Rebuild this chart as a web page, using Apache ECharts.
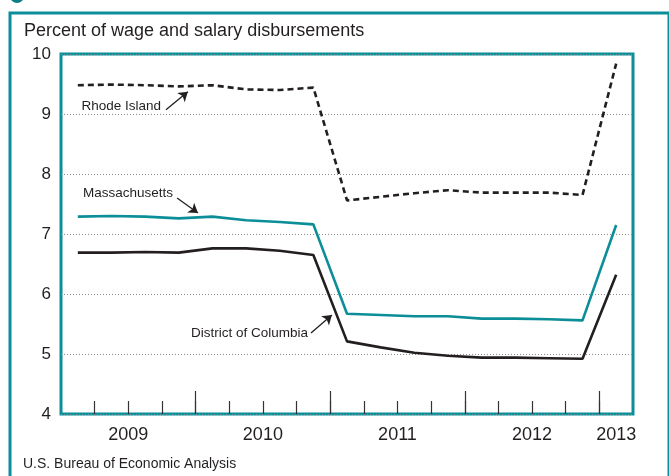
<!DOCTYPE html>
<html lang="en">

<head>
    <meta charset="UTF-8">
    <title>Wage and salary disbursements</title>
    <script src="https://cdn.jsdelivr.net/npm/echarts@6/dist/echarts.min.js"></script>
    <style>
        html, body { margin: 0; padding: 0; background: #fff; }
        #chart { width: 669px; height: 476px; }
    </style>
</head>

<body>
    <div id="chart"></div>
    <script>
        // quarterly values, 2009Q1 .. 2013Q1
        const quarters = ['2009Q1', '2009Q2', '2009Q3', '2009Q4', '2010Q1', '2010Q2', '2010Q3', '2010Q4',
            '2011Q1', '2011Q2', '2011Q3', '2011Q4', '2012Q1', '2012Q2', '2012Q3', '2012Q4', '2013Q1'];
        const years = ['2009', '2010', '2011', '2012', '2013'];
        const rhodeIsland = [9.48, 9.49, 9.48, 9.46, 9.48, 9.41, 9.40, 9.44, 7.56, 7.62, 7.68, 7.73, 7.69, 7.69, 7.69, 7.65, 9.84];
        const massachusetts = [7.29, 7.30, 7.29, 7.26, 7.29, 7.23, 7.20, 7.16, 5.67, 5.65, 5.63, 5.63, 5.59, 5.59, 5.58, 5.56, 7.15];
        const districtOfColumbia = [6.69, 6.69, 6.70, 6.69, 6.76, 6.76, 6.72, 6.65, 5.21, 5.11, 5.02, 4.97, 4.94, 4.94, 4.93, 4.92, 6.32];
        const yTicks = [4, 5, 6, 7, 8, 9, 10];

        const TEAL = '#0b8e98';
        const INK = '#231f20';
        const FONT = "'Liberation Sans', Arial, Helvetica, sans-serif";

        // x runs in quarters: quarter i fills [i, i+1], its point sits at i + 0.5
        const toPoints = vals => vals.map((v, i) => [i + 0.5, v]);
        const inner = quarters.map((q, i) => i).slice(1);           // quarter boundaries
        const yearStarts = inner.filter(i => quarters[i].endsWith('Q1'));
        // year label in the middle of the quarters it has
        const yearMid = years.map(y => {
            const idx = quarters.map((q, i) => q.startsWith(y) ? i : -1).filter(i => i >= 0);
            return (idx[0] + idx[idx.length - 1] + 1) / 2;
        });

        // label + arrow, in data coordinates
        function callout(name, textAt, from, to) {
            return {
                markPoint: {
                    silent: true,
                    symbol: 'circle',
                    symbolSize: 0,
                    data: [{ name: name, coord: textAt }],
                    label: {
                        show: true, position: 'left', distance: 2, formatter: '{b}',
                        color: INK, fontSize: 13.5, fontFamily: FONT
                    }
                },
                markLine: {
                    silent: true,
                    symbol: ['none', 'arrow'],
                    symbolSize: 9,
                    label: { show: false },
                    lineStyle: { color: INK, width: 1.3, type: 'solid' },
                    data: [[{ coord: from }, { coord: to }]]
                }
            };
        }

        let myChart = echarts.init(document.getElementById('chart'));

        const baseX = {
            type: 'value', position: 'bottom', min: 0, max: quarters.length,
            axisLine: { show: false },
            splitLine: { show: false }
        };

        let option = {
            animation: false,
            textStyle: { fontFamily: FONT },
            title: [
                {
                    text: 'Percent of wage and salary disbursements',
                    left: 19, top: 17,
                    textStyle: { fontSize: 18, fontWeight: 'normal', color: INK, fontFamily: FONT }
                },
                {
                    text: 'U.S. Bureau of Economic Analysis',
                    left: 18, top: 452,
                    textStyle: { fontSize: 14, fontWeight: 'normal', color: INK, fontFamily: FONT }
                }
            ],
            graphic: [
                {
                    type: 'rect', silent: true,
                    shape: { x: 10, y: 13, width: 659, height: 480 },
                    style: { fill: 'none', stroke: TEAL, lineWidth: 3 }
                },
                {
                    type: 'circle', silent: true,
                    shape: { cx: 17, cy: -4, r: 7 },
                    style: { fill: '#0a7d86' }
                }
            ],
            grid: {
                left: 61, right: 36, top: 54, bottom: 62,
                show: true, borderColor: TEAL, borderWidth: 3, backgroundColor: 'transparent'
            },
            xAxis: [
                Object.assign({}, baseX, {
                    axisTick: {
                        show: true, inside: true, length: 13, customValues: inner,
                        lineStyle: { color: '#333', width: 1.2 }
                    },
                    axisLabel: { show: false }
                }),
                Object.assign({}, baseX, {
                    axisTick: {
                        show: true, inside: true, length: 23, customValues: yearStarts,
                        lineStyle: { color: '#333', width: 1.2 }
                    },
                    axisLabel: { show: false }
                }),
                Object.assign({}, baseX, {
                    axisTick: { show: false },
                    axisLabel: {
                        show: true, margin: 12, fontSize: 18, color: INK, fontFamily: FONT,
                        customValues: yearMid,
                        formatter: v => years[yearMid.indexOf(v)]
                    }
                })
            ],
            yAxis: {
                type: 'value', min: yTicks[0], max: yTicks[yTicks.length - 1], interval: 1,
                axisLine: { show: false },
                axisTick: { show: false },
                axisLabel: { fontSize: 17, color: INK, margin: 10, fontFamily: FONT },
                splitLine: { show: true, lineStyle: { color: '#8a8a8a', width: 1, type: [1, 2] } }
            },
            series: [
                Object.assign({
                    name: 'Rhode Island', type: 'line', data: toPoints(rhodeIsland),
                    showSymbol: false, silent: true,
                    lineStyle: { color: INK, width: 2.6, type: [6, 4] }
                }, callout('Rhode Island', [3.03, 9.125], [3.12, 9.07], [3.77, 9.37])),
                Object.assign({
                    name: 'Massachusetts', type: 'line', data: toPoints(massachusetts),
                    showSymbol: false, silent: true,
                    lineStyle: { color: TEAL, width: 2.6 }
                }, callout('Massachusetts', [3.39, 7.68], [3.45, 7.60], [4.07, 7.35])),
                Object.assign({
                    name: 'District of Columbia', type: 'line', data: toPoints(districtOfColumbia),
                    showSymbol: false, silent: true,
                    lineStyle: { color: INK, width: 2.6 }
                }, callout('District of Columbia', [7.40, 5.35], [7.43, 5.35], [8.05, 5.65]))
            ]
        };

        myChart.setOption(option);
    </script>
</body>

</html>
